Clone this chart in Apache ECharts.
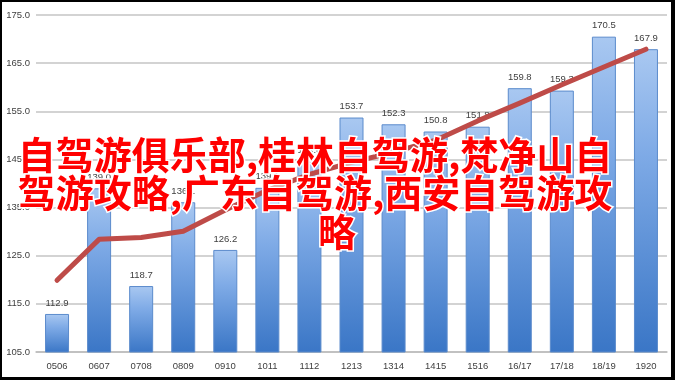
<!DOCTYPE html>
<html>
<head>
<meta charset="utf-8">
<script src="https://cdn.jsdelivr.net/npm/echarts@6/dist/echarts.min.js"></script>
<style>
  html, body { margin: 0; padding: 0; background: #000; }
  #frame { position: relative; width: 675px; height: 380px; background: #000; overflow: hidden; }
  #chart { position: absolute; left: 2px; top: 2px; width: 669px; height: 375px; background: #fff; }
</style>
</head>
<body>
<div id="frame"><div id="chart"></div></div>
<script>
// Seasons on the category axis
var seasons = ['0506', '0607', '0708', '0809', '0910', '1011', '1112', '1213',
               '1314', '1415', '1516', '16/17', '17/18', '18/19', '1920'];
// Column values (labelled above each bar)
var values = [112.9, 139.0, 118.7, 136.1, 126.2, 139.1, 144.6, 153.7,
              152.3, 150.8, 151.8, 159.8, 159.3, 170.5, 167.9];
// Red trend line running across the columns
var trend = [119.9, 128.4, 128.8, 130.1, 134.5, 138.6, 141.9, 144.4,
             146.5, 149.0, 153.0, 156.7, 160.5, 164.2, 167.9];
// Value axis range and step
var yMin = 105, yMax = 175, yStep = 10;
// Overlay caption, one entry per line
var captionLines = ['自驾游俱乐部,桂林自驾游,梵净山自', '驾游攻略,广东自驾游,西安自驾游攻', '略'];

var chart = echarts.init(document.getElementById('chart'));
var axisFont = 'Liberation Sans, Arial, sans-serif';
var capFont = '"Noto Sans CJK SC", sans-serif';

// caption line anchors (centre x, top y)
var capX = [313, 313, 335];
var capY = [134, 172, 211];

chart.setOption({
  animation: false,
  backgroundColor: '#ffffff',
  grid: { left: 34, right: 4, top: 13, bottom: 25 },
  xAxis: {
    type: 'category',
    data: seasons,
    axisTick: { show: false },
    axisLine: { lineStyle: { color: '#bcbcbc', width: 1.5 } },
    axisLabel: { color: '#404040', fontSize: 9.5, fontFamily: axisFont, margin: 9 }
  },
  yAxis: {
    type: 'value',
    min: yMin, max: yMax, interval: yStep,
    axisLine: { show: false },
    axisTick: { show: false },
    splitLine: { lineStyle: { color: '#c4c4c4', width: 1.5 } },
    axisLabel: {
      color: '#404040', fontSize: 9.5, fontFamily: axisFont, margin: 6,
      formatter: function (v) { return v.toFixed(1); }
    }
  },
  series: [
    {
      type: 'bar',
      data: values,
      barWidth: 24,
      barGap: '-100%',
      itemStyle: {
        color: new echarts.graphic.LinearGradient(0, 0, 0, 1, [
          { offset: 0, color: '#a9c8f1' },
          { offset: 0.35, color: '#7eaae6' },
          { offset: 1, color: '#3a76c6' }
        ]),
        borderColor: '#5b8bcc',
        borderWidth: 1
      },
      label: {
        show: true, position: 'top', distance: 6,
        color: '#404040', fontSize: 9.5, fontFamily: axisFont,
        formatter: function (p) { return p.value.toFixed(1); }
      }
    },
    {
      // light bevel cap on top of each column
      type: 'pictorialBar',
      data: values,
      barWidth: 24,
      barGap: '-100%',
      symbol: 'rect',
      symbolSize: [22, 4],
      symbolPosition: 'end',
      symbolOffset: [0, '50%'],
      itemStyle: { color: '#e4eefb' },
      silent: true
    },
    {
      type: 'line',
      data: trend,
      z: 5,
      symbol: 'none',
      lineStyle: { color: '#be4b48', width: 5, cap: 'round', join: 'round' }
    }
  ],
  graphic: captionLines.map(function (t, i) {
    return {
      type: 'text',
      z: 100,
      x: capX[i],
      y: capY[i],
      style: {
        text: t,
        align: 'center',
        verticalAlign: 'top',
        fill: '#ff0000',
        font: 'bold 38px ' + capFont,
        stroke: '#ffffff',
        lineWidth: 3
      }
    };
  })
});
</script>
</body>
</html>
